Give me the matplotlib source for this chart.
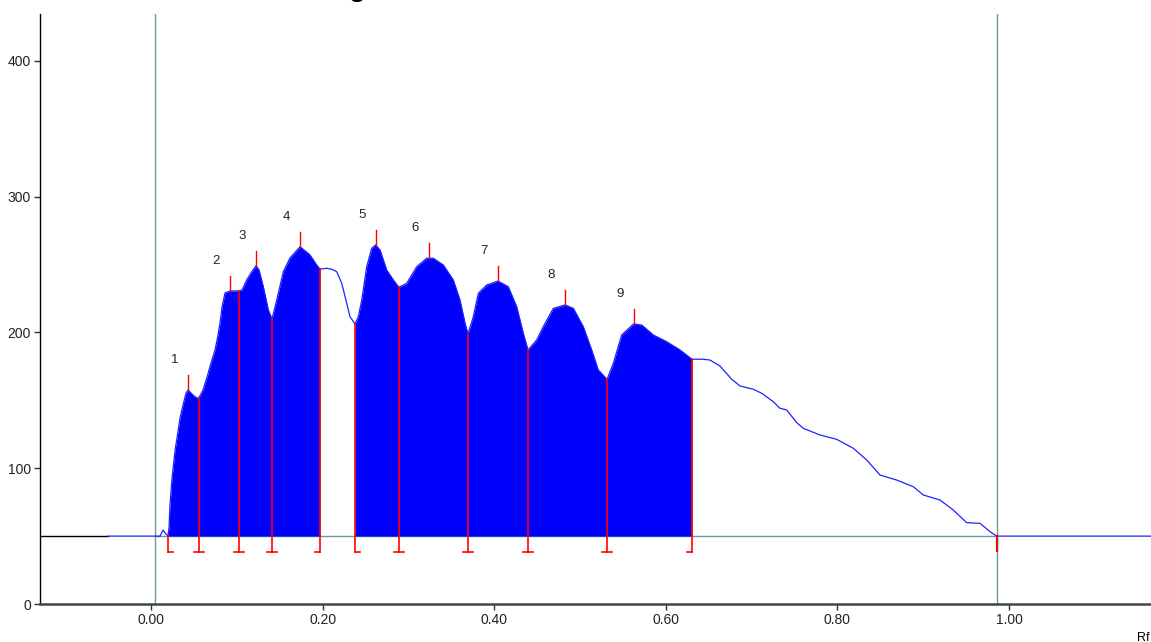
import numpy as np
import matplotlib
matplotlib.use("Agg")
import matplotlib.pyplot as plt

# densitogram profile (Rf, intensity)
rf = [-0.050, 0.0047, 0.0105, 0.0140, 0.0163, 0.0198, 0.0210, 0.0221, 0.0245, 0.0280,
      0.0303, 0.0338, 0.0373, 0.0408, 0.0431, 0.0466, 0.0501, 0.0536, 0.0559, 0.0606,
      0.0653, 0.0699, 0.0746, 0.0781, 0.0804, 0.0828, 0.0862, 0.0921, 0.0979, 0.1026,
      0.1061, 0.1115, 0.1174, 0.1224, 0.1259, 0.1309, 0.1367, 0.1410, 0.1465, 0.1542,
      0.1620, 0.1737, 0.1853, 0.1931, 0.1970, 0.2048, 0.2106, 0.2164, 0.2223, 0.2281,
      0.2319, 0.2378, 0.2416, 0.2456, 0.2514, 0.2572, 0.2617, 0.2669, 0.2747, 0.2824,
      0.2890, 0.2980, 0.3097, 0.3213, 0.3290, 0.3407, 0.3523, 0.3601, 0.3660, 0.3695,
      0.3756, 0.3815, 0.3913, 0.4044, 0.4164, 0.4262, 0.4339, 0.4394, 0.4495, 0.4572,
      0.4689, 0.4825, 0.4922, 0.5038, 0.5136, 0.5213, 0.5315, 0.5388, 0.5486, 0.5624,
      0.5719, 0.5854, 0.6010, 0.6166, 0.6305, 0.6437, 0.6515, 0.6632, 0.6768, 0.6865,
      0.7020, 0.7118, 0.7253, 0.7330, 0.7409, 0.7526, 0.7603, 0.7797, 0.7992, 0.8185,
      0.8341, 0.8497, 0.8691, 0.8885, 0.9001, 0.9196, 0.9351, 0.9507, 0.9662, 0.9779,
      0.9837, 0.9860, 1.1655]
intensity = [50, 50, 50, 54.5, 52.3, 50, 56.7, 72.9, 92.8, 113.4,
             122.3, 137.0, 146.6, 155.4, 157.6, 155.4, 153.2, 151.7, 152.0, 157.6,
             167.2, 177.5, 187.1, 198.2, 207.0, 218.8, 229.1, 230.6, 230.6, 230.6,
             231.3, 238.7, 244.8, 249.2, 246.0, 233.7, 216.6, 209.9, 223.9, 244.8,
             254.9, 263.2, 257.1, 249.7, 246.6, 247.3, 246.6, 244.8, 236.2, 221.5,
             211.6, 206.3, 211.6, 223.9, 248.5, 262.0, 264.5, 260.8, 246.0, 238.7,
             233.3, 236.2, 248.5, 254.7, 254.7, 249.7, 238.7, 223.9, 206.8, 198.9,
             211.6, 228.9, 235.0, 237.9, 233.7, 219.0, 199.4, 187.1, 194.5, 204.3,
             217.8, 220.3, 217.8, 204.3, 187.1, 172.4, 165.5, 177.3, 198.2, 206.3,
             205.5, 198.2, 193.2, 187.1, 180.3, 180.3, 179.7, 175.3, 165.5, 160.6,
             158.2, 155.2, 149.0, 144.2, 142.9, 133.6, 129.4, 124.5, 121.3, 114.7,
             106.1, 95.0, 91.3, 86.4, 80.3, 76.6, 69.2, 59.9, 59.4, 53.3,
             50.8, 50, 50]

peak_labels = ["1", "2", "3", "4", "5", "6", "7", "8", "9"]
peak_rf = [0.0431, 0.0921, 0.1224, 0.1737, 0.2617, 0.3240, 0.4044, 0.4825, 0.5624]
# band limits; the kind says which way the little foot points
bound_rf = [0.0198, 0.0559, 0.1026, 0.1410, 0.1970, 0.2378, 0.2890, 0.3695, 0.4394, 0.5315, 0.6305]
bound_kind = ["R", "T", "T", "T", "L", "R", "T", "T", "T", "T", "L"]
front_rf = 0.9860
start_rf = 0.0047
baseline = 50

rf = np.array(rf)
intensity = np.array(intensity)

fig = plt.figure(figsize=(11.51, 6.42), dpi=100)
ax = fig.add_axes([40 / 1151, 38 / 642, 1 - 40 / 1151, 590 / 642])
ax.set_xlim(-0.1294, 1.1655)
ax.set_ylim(0, 434.6)

teal = "#6b9c9c"
blue = "#0000ff"
red = "#ff0000"

# baselines
ax.plot([-0.1294, -0.050], [baseline, baseline], color="black", lw=1.0, zorder=2)
ax.plot([start_rf, front_rf], [baseline, baseline], color=teal, lw=1.0, zorder=1)
ax.axvline(start_rf, color=teal, lw=1.0, zorder=1)
ax.axvline(front_rf, color=teal, lw=1.0, zorder=1)

# filled bands
for lo, hi in [(bound_rf[0], bound_rf[4]), (bound_rf[5], bound_rf[10])]:
    m = (rf >= lo) & (rf <= hi)
    ax.fill_between(rf[m], baseline, intensity[m], color=blue, lw=0, zorder=3)

ax.plot(rf, intensity, color="#2020ff", lw=0.9, zorder=3)

# band limits
foot = 0.0058
for b, k in zip(bound_rf, bound_kind):
    top = np.interp(b, rf, intensity)
    ax.plot([b, b], [38, top], color=red, lw=1.2, zorder=4)
    if k == "T":
        ax.plot([b - foot, b + foot], [38, 38], color=red, lw=1.2, zorder=4)
    elif k == "R":
        ax.plot([b, b + foot], [38, 38], color=red, lw=1.2, zorder=4)
    else:
        ax.plot([b - foot, b], [38, 38], color=red, lw=1.2, zorder=4)
ax.plot([front_rf, front_rf], [39, baseline], color=red, lw=1.6, zorder=4)

# peak marks and numbers
for lab, p in zip(peak_labels, peak_rf):
    top = np.interp(p, rf, intensity)
    ax.plot([p, p], [top, top + 11], color=red, lw=1.0, zorder=4)
    ax.text(p - 0.016, top + 22, lab, ha="center", va="center", fontsize=9.5,
            family=["Liberation Sans Narrow", "Liberation Sans"], color="#222222")

# axes styling
for s in ["top", "right"]:
    ax.spines[s].set_visible(False)
ax.spines["left"].set_color("black")
ax.spines["left"].set_linewidth(1.0)
ax.spines["bottom"].set_color("#444444")
ax.spines["bottom"].set_linewidth(1.8)
ax.set_yticks([0, 100, 200, 300, 400])
ax.set_xticks([0.0, 0.2, 0.4, 0.6, 0.8, 1.0])
ax.set_xticklabels(["0.00", "0.20", "0.40", "0.60", "0.80", "1.00"])
ax.tick_params(axis="both", direction="out", length=4.5, width=1.0, color="#333333",
               labelsize=10, labelcolor="#222222", pad=2)
for t in ax.get_xticklabels() + ax.get_yticklabels():
    t.set_family(["Liberation Sans Narrow", "Liberation Sans"])

# clipped title and axis name
fig.text(357 / 1151, 1.006, "g", ha="center", va="baseline", fontsize=20,
         fontweight="bold", family="Liberation Sans")
fig.text(1143 / 1151, 0.006, "Rf", ha="center", va="center", fontsize=9,
         family=["Liberation Sans Narrow", "Liberation Sans"])

fig.savefig("out.png", dpi=100)
